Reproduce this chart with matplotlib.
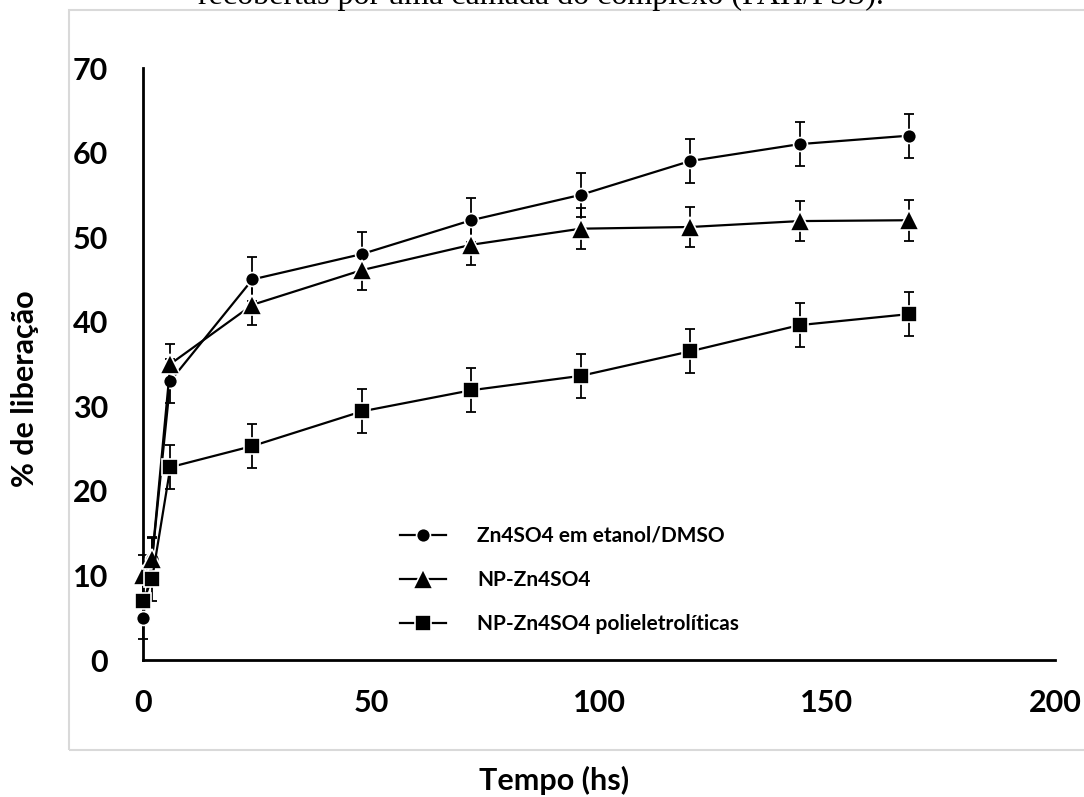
import numpy as np
import matplotlib
matplotlib.use('Agg')
import matplotlib.pyplot as plt
from matplotlib.patches import Rectangle

plt.rcParams['font.family'] = ['Lato', 'DejaVu Sans']
plt.rcParams['font.weight'] = 'bold'

# release time (h)
tempo = [0, 2, 6, 24, 48, 72, 96, 120, 144, 168]

# % released, each formulation
lib_etanol = [5.0, 12.0, 33.0, 45.0, 48.0, 52.0, 55.0, 59.0, 61.0, 62.0]
lib_np = [10.0, 12.0, 35.0, 42.0, 46.1, 49.1, 51.0, 51.2, 51.9, 52.0]
lib_pe = [7.0, 9.6, 22.8, 25.3, 29.4, 31.9, 33.6, 36.5, 39.6, 40.9]

# standard deviations
err_etanol = [2.5, 2.5, 2.6, 2.6, 2.6, 2.6, 2.6, 2.6, 2.6, 2.6]
err_np = [2.4, 2.4, 2.4, 2.4, 2.4, 2.4, 2.4, 2.4, 2.4, 2.4]
err_pe = [2.6, 2.6, 2.6, 2.6, 2.6, 2.6, 2.6, 2.6, 2.6, 2.6]

nomes = ['Zn4SO4 em etanol/DMSO', 'NP-Zn4SO4', 'NP-Zn4SO4 polieletrolíticas']
x_ticks = [0, 50, 100, 150, 200]
y_ticks = [0, 10, 20, 30, 40, 50, 60, 70]


def main():
    fig = plt.figure(figsize=(10.84, 7.97), dpi=100)

    # light frame around the chart area
    fig.patches.append(Rectangle((69/1084, 1-750/797), 1.2, (750-10)/797,
                                 transform=fig.transFigure, fill=False,
                                 edgecolor='#d9d9d9', linewidth=1.5))
    # caption line above the chart (only its lower part lies on the page)
    fig.text(541/1084, 1-4/797, 'recobertas por uma camada do complexo (PAH/PSS).',
             family='Liberation Serif', weight='normal', fontsize=23,
             ha='center', va='baseline')

    ax = fig.add_axes([143/1084, 1-660/797, 912/1084, 592/797])

    series = [(lib_etanol, err_etanol, 'o', 10),
              (lib_np, err_np, '^', 15),
              (lib_pe, err_pe, 's', 11)]
    for (vals, errs, mk, ms), nome in zip(series, nomes):
        ax.errorbar(tempo, vals, yerr=errs, fmt='none', ecolor='black',
                    elinewidth=1.3, capsize=3.5, capthick=1.3, clip_on=False, zorder=2)
        ax.plot(tempo, vals, color='black', linewidth=1.6, marker=mk, markersize=ms,
                markerfacecolor='black', markeredgecolor='white', markeredgewidth=1.2,
                label=nome, clip_on=False, zorder=3)

    ax.set_xlim(0, 200)
    ax.set_ylim(0, 70)
    ax.set_xticks(x_ticks)
    ax.set_yticks(y_ticks)
    for s in ['top', 'right']:
        ax.spines[s].set_visible(False)
    for s in ['left', 'bottom']:
        ax.spines[s].set_linewidth(2)
    ax.tick_params(axis='both', length=0, labelsize=22)
    ax.tick_params(axis='y', pad=25)
    ax.tick_params(axis='x', pad=21)
    for lab in ax.get_xticklabels() + ax.get_yticklabels():
        lab.set_fontweight('bold')

    fig.text(25/1084, 1-389/797, '% de liberação', rotation=90, fontsize=22,
             ha='center', va='center', weight='bold')
    fig.text(554/1084, 1-780/797, 'Tempo (hs)', fontsize=22,
             ha='center', va='center', weight='bold')

    ax.legend(loc='upper left', bbox_to_anchor=(400/1084, 1-526/797),
              bbox_transform=fig.transFigure, frameon=False, fontsize=15,
              handlelength=2.2, handletextpad=1.5, labelspacing=1.15,
              borderpad=0, borderaxespad=0)

    plt.savefig('out.png', dpi=100)


if __name__ == '__main__':
    main()
